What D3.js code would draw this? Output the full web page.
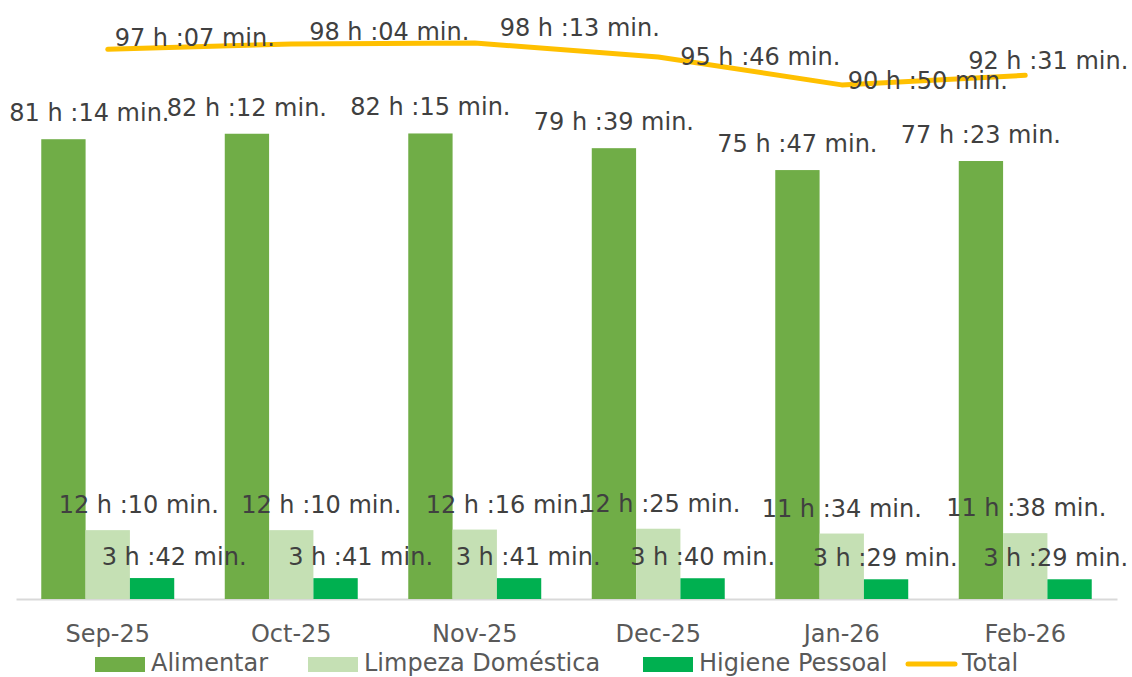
<!DOCTYPE html>
<html>
<head>
<meta charset="utf-8">
<script src="https://cdn.jsdelivr.net/npm/d3@7"></script>
<style>
  body { margin: 0; background: #fff; }
  text { font-family: "Century Gothic", "DejaVu Sans", sans-serif; }
</style>
</head>
<body>
<div id="chart"></div>
<script>
// values in minutes
var months = ["Sep-25", "Oct-25", "Nov-25", "Dec-25", "Jan-26", "Feb-26"];
var seriesNames = ["Alimentar", "Limpeza Doméstica", "Higiene Pessoal"];
var alimentar = [4874, 4932, 4935, 4779, 4547, 4643];
var limpeza = [730, 730, 736, 745, 694, 698];
var higiene = [222, 221, 221, 220, 209, 209];
var total = [5827, 5884, 5893, 5746, 5450, 5551];

var colors = ["#70AD47", "#C5E0B4", "#00B050"];
var lineColor = "#FFC000";

// manual label nudges (as moved in the original)
var shiftX = [
  [26, 0, 0, 0, 0, 0],
  [31, 30, 31, 2, 0, 1],
  [22, 25, 9, 0, -1, -14]
];
var totalShiftX = [87, 98, 105, 102, 86, 23];
var totalShiftY = [-11, -12, -15, 0, -4, -14];

var width = 1132, height = 677;
var margin = { left: 16, right: 15, top: 33, bottom: 78 };

var svg = d3.select("#chart").append("svg")
  .attr("width", width).attr("height", height);

var fmt = function(m) {
  return Math.floor(m / 60) + " h :" + String(m % 60).padStart(2, "0") + " min.";
};

var x0 = d3.scaleBand().domain(months)
  .range([margin.left, width - margin.right]);
var x1 = d3.scaleBand().domain(seriesNames)
  .range([0, x0.bandwidth()]).paddingOuter(0.57);
var y = d3.scaleLinear().domain([0, 6000])
  .range([height - margin.bottom, margin.top]);

var allSeries = [alimentar, limpeza, higiene];

// x axis
var xAxis = svg.append("g")
  .attr("transform", "translate(0," + y(0) + ")")
  .call(d3.axisBottom(x0).tickSize(0).tickPadding(26));
xAxis.select(".domain").attr("stroke", "#d9d9d9").attr("stroke-width", 2);
xAxis.selectAll("text")
  .attr("fill", "#595959")
  .style("font-size", "24px")
  .style("font-family", "'Century Gothic', 'DejaVu Sans', sans-serif");

// bars
allSeries.forEach(function(vals, s) {
  svg.append("g").selectAll("rect")
    .data(vals)
    .enter().append("rect")
    .attr("x", function(d, i) { return x0(months[i]) + x1(seriesNames[s]); })
    .attr("y", function(d) { return y(d); })
    .attr("width", x1.bandwidth())
    .attr("height", function(d) { return y(0) - y(d); })
    .attr("fill", colors[s]);
});

// total line
var line = d3.line()
  .x(function(d, i) { return x0(months[i]) + x0.bandwidth() / 2; })
  .y(function(d) { return y(d); });
svg.append("path")
  .datum(total)
  .attr("d", line)
  .attr("fill", "none")
  .attr("stroke", lineColor)
  .attr("stroke-width", 5)
  .attr("stroke-linecap", "round")
  .attr("stroke-linejoin", "round");

// bar labels
var labelGap = [18, 17, 13];
allSeries.forEach(function(vals, s) {
  svg.append("g").selectAll("text")
    .data(vals)
    .enter().append("text")
    .attr("x", function(d, i) {
      return x0(months[i]) + x1(seriesNames[s]) + x1.bandwidth() / 2 + shiftX[s][i];
    })
    .attr("y", function(d) { return y(d) - labelGap[s]; })
    .attr("text-anchor", "middle")
    .attr("fill", "#404040")
    .style("font-size", "24px")
    .text(fmt);
});

// total labels
svg.append("g").selectAll("text")
  .data(total)
  .enter().append("text")
  .attr("x", function(d, i) { return x0(months[i]) + x0.bandwidth() / 2 + totalShiftX[i]; })
  .attr("y", function(d, i) { return y(d) + totalShiftY[i] + 8; })
  .attr("text-anchor", "middle")
  .attr("fill", "#404040")
  .style("font-size", "24px")
  .text(fmt);

// legend
var legendY = 663;
var legendItems = [
  { name: "Alimentar", x: 95, type: "rect", color: colors[0] },
  { name: "Limpeza Doméstica", x: 308, type: "rect", color: colors[1] },
  { name: "Higiene Pessoal", x: 643, type: "rect", color: colors[2] },
  { name: "Total", x: 906, type: "line", color: lineColor }
];
var lg = svg.append("g");
legendItems.forEach(function(it) {
  if (it.type === "rect") {
    lg.append("rect").attr("x", it.x).attr("y", legendY - 6)
      .attr("width", 50).attr("height", 15).attr("fill", it.color);
  } else {
    lg.append("line").attr("x1", it.x + 2).attr("x2", it.x + 49)
      .attr("y1", legendY + 1).attr("y2", legendY + 1)
      .attr("stroke", it.color).attr("stroke-width", 5)
      .attr("stroke-linecap", "round");
  }
  lg.append("text").attr("x", it.x + 56).attr("y", legendY + 8)
    .attr("fill", "#595959")
    .style("font-size", "24px")
    .text(it.name);
});
</script>
</body>
</html>
